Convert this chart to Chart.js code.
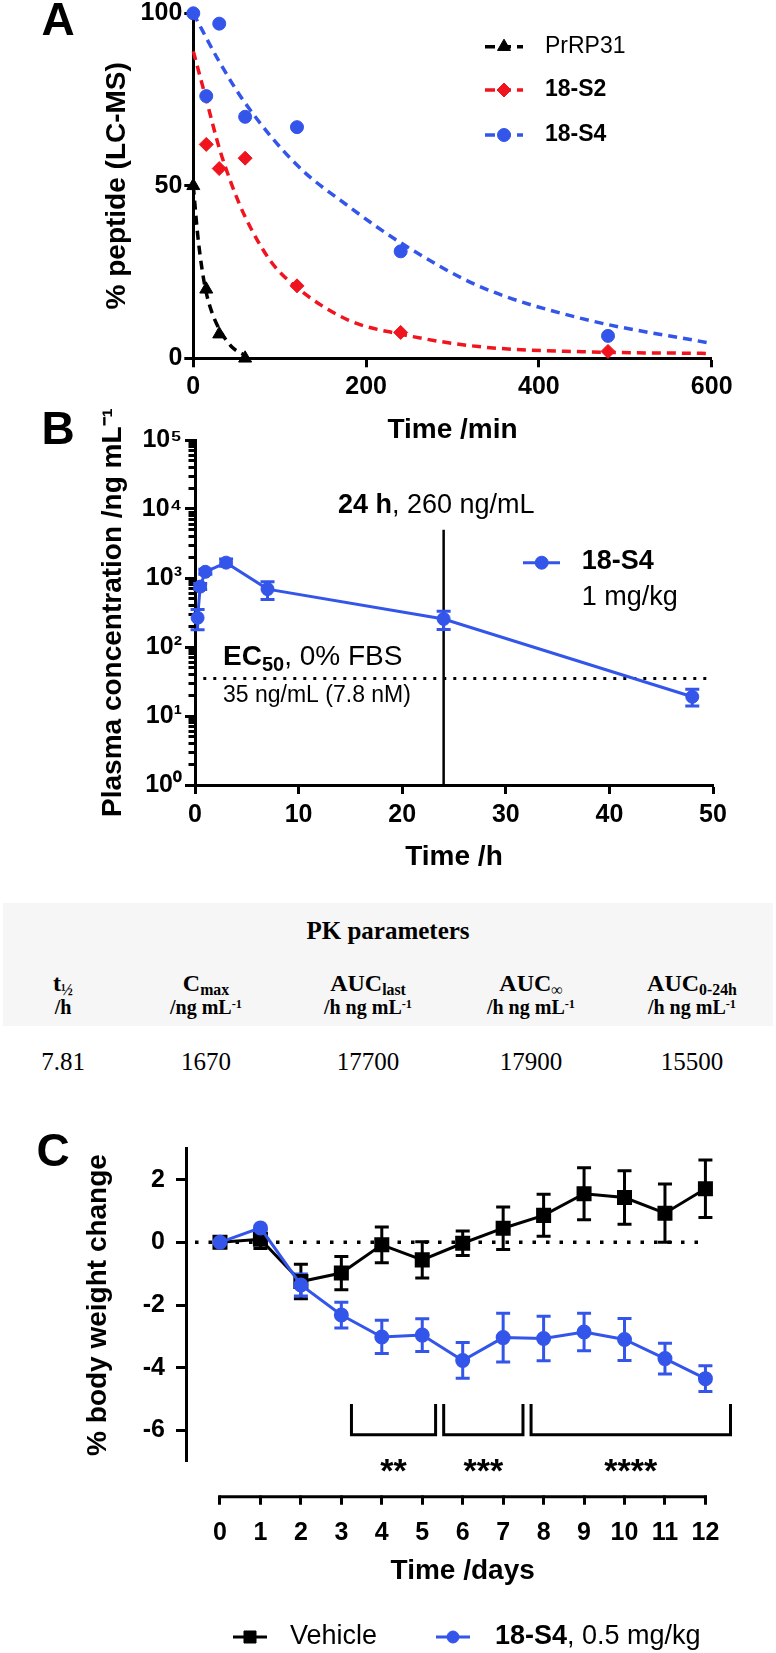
<!DOCTYPE html>
<html>
<head>
<meta charset="utf-8">
<title>Peptide stability, PK and body weight</title>
<script src="https://cdn.jsdelivr.net/npm/chart.js@4.4.1/dist/chart.umd.min.js"></script>
<style>
  html, body { margin: 0; padding: 0; background: #fff; }
  body { position: relative; width: 776px; height: 1653px; overflow: hidden; font-family: "Liberation Sans", Arial, Helvetica, sans-serif; }
  canvas { position: absolute; left: 0; }
  .panel { position: absolute; font-weight: bold; font-size: 46px; line-height: 46px; transform: translate(-50%, -50%); }
  #pk { position: absolute; left: 3px; top: 903px; width: 770px; height: 123px; background: #f6f6f6; }
  .pk { position: absolute; width: 170px; margin-left: -85px; text-align: center; white-space: nowrap;
        font-family: "Liberation Serif", "Times New Roman", serif; }
  .pk sub { font-size: 0.66em; vertical-align: -0.28em; line-height: 0; }
  .pk sup { font-size: 0.62em; vertical-align: 0.5em; line-height: 0; }
</style>
</head>
<body>
<canvas id="chartA" width="776" height="450" style="top:0"></canvas>
<canvas id="chartB" width="776" height="480" style="top:400px"></canvas>
<div id="pk"></div>
<canvas id="chartC" width="776" height="533" style="top:1120px"></canvas>
<div class="panel" style="left:58px;top:19px">A</div>
<div class="panel" style="left:58px;top:428px">B</div>
<div class="panel" style="left:53px;top:1150px">C</div>
<script>
// ---------- A: stability in serum (LC-MS) ----------
const aPrrpTime = [0, 15, 30, 60];
const aPrrpPct = [50, 20, 7, 0];
const aS2Time = [15, 30, 60, 120, 240, 480];
const aS2Pct = [62, 55, 58, 21, 7.5, 2];
const aS4Time = [0, 15, 30, 60, 120, 240, 480];
const aS4Pct = [100, 76, 97, 70, 67, 31, 6.5];
// dashed decay fits
const aPrrpFitT = [0, 5, 10, 15, 22, 30, 45, 60];
const aPrrpFitY = [50, 36, 26, 19, 13, 8.5, 3.2, 0.8];
const aS2FitT = [0, 15, 30, 45, 60, 90, 120, 180, 240, 330, 450, 600];
const aS2FitY = [89, 75, 61, 50, 41, 28, 20.5, 11, 7, 3.4, 1.9, 1.4];
const aS4FitT = [0, 30, 60, 120, 180, 240, 330, 450, 600];
const aS4FitY = [100, 86, 74, 56, 44, 33.5, 21, 11.5, 4.3];
const aXTicks = [0, 200, 400, 600];
const aYTicks = [0, 50, 100];

// ---------- B: plasma PK of 18-S4, 1 mg/kg ----------
const bTime = [0.25, 0.5, 1, 3, 7, 24, 48];
const bConc = [265, 750, 1230, 1670, 690, 255, 19];
const bLow = [178, 680, 1130, 1480, 490, 180, 14];
const bHigh = [350, 830, 1340, 1880, 880, 330, 24.5];
const bXTicks = [0, 10, 20, 30, 40, 50];
const bDecades = [1, 10, 100, 1000, 10000, 100000];
const bYLabels = ['10\u2070', '10\u00b9', '10\u00b2', '10\u00b3', '10\u2074', '10\u2075'];
const bMarkTime = 24, bMarkTop = 5000;      // 24 h marker line
const ec50 = 35, ec50From = 0.8;             // EC50 dotted line

// ---------- PK table ----------
const pkNames = ['t<sub>\u00bd</sub>', 'C<sub>max</sub>', 'AUC<sub>last</sub>', 'AUC<sub>\u221e</sub>', 'AUC<sub>0-24h</sub>'];
const pkUnits = ['/h', '/ng mL<sup>-1</sup>', '/h ng mL<sup>-1</sup>', '/h ng mL<sup>-1</sup>', '/h ng mL<sup>-1</sup>'];
const pkValues = ['7.81', '1670', '17700', '17900', '15500'];

// ---------- C: body weight change ----------
const cDays = [0, 1, 2, 3, 4, 5, 6, 7, 8, 9, 10, 11, 12];
const vehMean = [0, 0.1, -1.25, -0.98, -0.08, -0.56, -0.03, 0.45, 0.86, 1.55, 1.43, 0.93, 1.71];
const vehSem = [0, 0.3, 0.55, 0.53, 0.57, 0.58, 0.39, 0.68, 0.67, 0.83, 0.85, 0.93, 0.92];
const s4Mean = [0, 0.46, -1.36, -2.32, -3.02, -2.96, -3.77, -3.04, -3.07, -2.86, -3.1, -3.71, -4.35];
const s4Sem = [0, 0, 0.35, 0.41, 0.53, 0.52, 0.57, 0.78, 0.71, 0.6, 0.67, 0.49, 0.41];
const cXTicks = [0, 1, 2, 3, 4, 5, 6, 7, 8, 9, 10, 11, 12];
const cYTicks = [-6, -4, -2, 0, 2];
const sigFrom = [3.25, 5.53, 7.69];
const sigTo = [5.33, 7.49, 12.62];
const sigMark = ['**', '***', '****'];
const sigTop = -5.16, sigBottom = -6.14;

const FONT = '"Liberation Sans", Arial, Helvetica, sans-serif';
const BLACK = '#000000', RED = '#f0141e', BLUE = '#3355ea';
Chart.defaults.font.family = FONT;
Chart.defaults.color = BLACK;
Chart.defaults.animation = false;
Chart.defaults.plugins.legend.display = false;
Chart.defaults.plugins.tooltip.enabled = false;

const pts = (xs, ys) => xs.map((x, i) => ({x: x, y: ys[i]}));

function axisX(o) {
  return {
    type: 'linear', position: 'bottom', min: o.min, max: o.max,
    border: {display: o.border !== false, color: BLACK, width: 3},
    grid: {drawOnChartArea: false, color: BLACK, tickColor: BLACK, tickLength: o.tl || 9, tickWidth: 3,
           tickBorderDash: o.tickDash || []},
    ticks: {font: {size: 25, weight: 'bold'}, padding: o.pad, autoSkip: false, maxRotation: 0, minRotation: 0},
    title: {display: true, text: o.title, font: {size: 28, weight: 'bold'}, padding: {top: 0, bottom: o.tpad}},
    afterBuildTicks(s) { s.ticks = o.ticks.map(v => ({value: v})); },
    afterFit(s) { s.height = o.h; s.paddingLeft = 0; s.paddingRight = 0; }
  };
}
function axisY(o) {
  return {
    type: o.type || 'linear', position: 'left', min: o.min, max: o.max,
    border: {display: true, color: BLACK, width: 3},
    grid: {drawOnChartArea: false, color: BLACK, tickColor: BLACK, tickLength: o.tl || 10, tickWidth: 3,
           tickBorderDash: o.tickDash || []},
    ticks: {font: {size: 25, weight: 'bold'}, padding: o.pad, autoSkip: false, callback: o.cb},
    title: {display: true, text: o.title, font: {size: 28, weight: 'bold'}, padding: {top: o.tpad, bottom: 0}},
    afterBuildTicks(s) { s.ticks = o.ticks.map(v => ({value: v})); },
    afterFit(s) { s.width = o.w; s.paddingTop = 0; s.paddingBottom = 0; }
  };
}

function drawMark(ctx, style, x, y, r, color) {
  ctx.save();
  ctx.fillStyle = color; ctx.strokeStyle = color; ctx.lineWidth = 1; ctx.setLineDash([]);
  ctx.beginPath();
  if (style === 'circle') {
    ctx.arc(x, y, r, 0, Math.PI * 2);
  } else if (style === 'rectRot') {
    ctx.moveTo(x, y - r); ctx.lineTo(x + r, y); ctx.lineTo(x, y + r); ctx.lineTo(x - r, y); ctx.closePath();
  } else if (style === 'triangle') {
    let a = 0;
    ctx.moveTo(x + Math.sin(a) * r, y - Math.cos(a) * r);
    a += 2 * Math.PI / 3; ctx.lineTo(x + Math.sin(a) * r, y - Math.cos(a) * r);
    a += 2 * Math.PI / 3; ctx.lineTo(x + Math.sin(a) * r, y - Math.cos(a) * r);
    ctx.closePath();
  } else {
    const s = r * Math.SQRT1_2;
    ctx.rect(x - s, y - s, 2 * s, 2 * s);
  }
  ctx.fill(); ctx.stroke();
  ctx.restore();
}

// text made of runs: [{t, b, s, dy}]
function runs(ctx, x, y, parts, size) {
  ctx.save();
  ctx.fillStyle = BLACK; ctx.textBaseline = 'middle'; ctx.textAlign = 'left';
  parts.forEach(p => {
    ctx.font = (p.b ? 'bold ' : '') + (p.s || size) + 'px ' + FONT;
    ctx.fillText(p.t, x, y + (p.dy || 0));
    x += ctx.measureText(p.t).width;
  });
  ctx.restore();
}

function errBars(chart, xs, lo, hi, color, cap, width) {
  const {ctx, scales: {x, y}} = chart;
  ctx.save();
  ctx.strokeStyle = color; ctx.lineWidth = width; ctx.setLineDash([]);
  xs.forEach((t, i) => {
    if (hi[i] === lo[i]) return;
    const px = x.getPixelForValue(t);
    const p1 = y.getPixelForValue(lo[i]), p2 = y.getPixelForValue(hi[i]);
    ctx.beginPath();
    ctx.moveTo(px, p1); ctx.lineTo(px, p2);
    ctx.moveTo(px - cap, p1); ctx.lineTo(px + cap, p1);
    ctx.moveTo(px - cap, p2); ctx.lineTo(px + cap, p2);
    ctx.stroke();
  });
  ctx.restore();
}

// ================= chart A =================
function markers(label, xs, ys, color, style, r) {
  return {label: label, data: pts(xs, ys), showLine: false, pointStyle: style, pointRadius: r,
          pointBackgroundColor: color, pointBorderColor: color, pointBorderWidth: 1, clip: false};
}
function fitLine(label, xs, ys, color) {
  return {label: label, data: pts(xs, ys), showLine: true, borderColor: color, borderWidth: 3.5,
          borderDash: [9, 6], pointRadius: 0, cubicInterpolationMode: 'monotone', fill: false, clip: false};
}
const legendA = {
  id: 'legendA',
  afterDraw(chart) {
    const ctx = chart.ctx;
    const rows = [46.7, 90, 135];
    const bold = [false, true, true];
    [0, 1, 2].forEach((k, i) => {
      const ds = chart.data.datasets[k];
      const y = rows[i];
      ctx.save();
      ctx.strokeStyle = ds.pointBackgroundColor; ctx.lineWidth = 3.5; ctx.setLineDash([10, 6]);
      ctx.beginPath(); ctx.moveTo(485, y); ctx.lineTo(523, y); ctx.stroke();
      ctx.restore();
      drawMark(ctx, ds.pointStyle, 504, y, ds.pointRadius, ds.pointBackgroundColor);
      runs(ctx, 545, y, [{t: ds.label, b: bold[i]}], 23);
    });
  }
};
new Chart(document.getElementById('chartA'), {
  type: 'scatter',
  data: {datasets: [
    markers('PrRP31', aPrrpTime, aPrrpPct, BLACK, 'triangle', 7.5),
    markers('18-S2', aS2Time, aS2Pct, RED, 'rectRot', 7),
    markers('18-S4', aS4Time, aS4Pct, BLUE, 'circle', 6.5),
    fitLine('PrRP31 fit', aPrrpFitT, aPrrpFitY, BLACK),
    fitLine('18-S2 fit', aS2FitT, aS2FitY, RED),
    fitLine('18-S4 fit', aS4FitT, aS4FitY, BLUE)
  ]},
  options: {
    responsive: false,
    layout: {padding: {left: 0, right: 64.3, top: 13.3, bottom: 0}},
    scales: {
      x: axisX({min: 0, max: 600, ticks: aXTicks, title: 'Time /min', pad: 5, tpad: 3.2, h: 91.7}),
      y: axisY({min: 0, max: 100, ticks: aYTicks, title: '% peptide (LC-MS)', pad: 2, tl: 9, tpad: 100, w: 193.3})
    }
  },
  plugins: [legendA]
});

// ================= chart B =================
const bTickVals = [];
bDecades.forEach((d, i) => {
  bTickVals.push(d);
  if (i < bDecades.length - 1) for (let k = 2; k < 10; k++) bTickVals.push(d * k);
});
const decorB = {
  id: 'decorB',
  beforeDatasetsDraw(chart) {
    const {ctx, scales: {x, y}} = chart;
    ctx.save();
    ctx.strokeStyle = BLACK;
    ctx.lineWidth = 2.5;
    ctx.beginPath();
    ctx.moveTo(x.getPixelForValue(bMarkTime), y.getPixelForValue(bMarkTop));
    ctx.lineTo(x.getPixelForValue(bMarkTime), y.getPixelForValue(1));
    ctx.stroke();
    ctx.lineWidth = 3; ctx.setLineDash([3, 7]);
    ctx.beginPath();
    ctx.moveTo(x.getPixelForValue(ec50From), y.getPixelForValue(ec50));
    ctx.lineTo(x.getPixelForValue(50), y.getPixelForValue(ec50));
    ctx.stroke();
    ctx.restore();
    errBars(chart, bTime, bLow, bHigh, BLUE, 7, 3);
  },
  afterDraw(chart) {
    const ctx = chart.ctx;
    runs(ctx, 338, 106, [{t: '24 h', b: true}, {t: ', 260 ng/mL'}], 27);
    runs(ctx, 223, 257, [{t: 'EC', b: true}, {t: '50', b: true, s: 20, dy: 8}, {t: ', 0% FBS'}], 28);
    runs(ctx, 223, 296, [{t: '35 ng/mL (7.8 nM)'}], 23);
    ctx.save();
    ctx.strokeStyle = BLUE; ctx.lineWidth = 3;
    ctx.beginPath(); ctx.moveTo(523, 162.7); ctx.lineTo(560, 162.7); ctx.stroke();
    ctx.restore();
    drawMark(ctx, 'circle', 541.7, 162.7, 6.5, BLUE);
    runs(ctx, 581.7, 162, [{t: chart.data.datasets[0].label, b: true}], 27);
    runs(ctx, 581.7, 198, [{t: '1 mg/kg'}], 27);
  }
};
new Chart(document.getElementById('chartB'), {
  type: 'scatter',
  data: {datasets: [{
    label: '18-S4', data: pts(bTime, bConc), showLine: true, borderColor: BLUE, borderWidth: 3,
    pointRadius: 6.5, pointBackgroundColor: BLUE, pointBorderColor: BLUE, pointBorderWidth: 1, clip: false
  }]},
  options: {
    responsive: false,
    layout: {padding: {left: 0, right: 63, top: 40, bottom: 0}},
    scales: {
      x: axisX({min: 0, max: 50, ticks: bXTicks, title: 'Time /h', pad: 6, tpad: 6.2, h: 95}),
      y: axisY({type: 'logarithmic', min: 1, max: 100000, ticks: bTickVals,
        title: 'Plasma concentration /ng mL\u207b\u00b9', pad: 3, tl: 10, tpad: 96, w: 195,
        cb: v => { const i = bDecades.indexOf(v); return i >= 0 ? bYLabels[i] : ''; },
        tickDash: c => (c.tick && bDecades.indexOf(c.tick.value) < 0) ? [0, 3.5, 20] : []})
    }
  },
  plugins: [decorB]
});

// ================= PK table =================
const pkCols = [63, 206, 368, 531, 692];
let pkHtml = '<div class="pk" style="left:388px;top:916px;font-weight:bold;font-size:25px;line-height:30px">PK parameters</div>';
pkCols.forEach((cx, i) => {
  pkHtml += '<div class="pk" style="left:' + cx + 'px;top:969px;font-weight:bold;font-size:24px;line-height:28px">' + pkNames[i] + '</div>';
  pkHtml += '<div class="pk" style="left:' + cx + 'px;top:995px;font-weight:bold;font-size:20px;line-height:24px">' + pkUnits[i] + '</div>';
  pkHtml += '<div class="pk" style="left:' + cx + 'px;top:1048px;font-size:25px;line-height:28px">' + pkValues[i] + '</div>';
});
document.body.insertAdjacentHTML('beforeend', pkHtml);

// ================= chart C =================
const decorC = {
  id: 'decorC',
  beforeDatasetsDraw(chart) {
    const {ctx, chartArea, scales: {x, y}} = chart;
    ctx.save();
    ctx.strokeStyle = BLACK; ctx.lineWidth = 3.5; ctx.setLineDash([3.5, 10]);
    ctx.beginPath();
    ctx.moveTo(chartArea.left + 9, y.getPixelForValue(0));
    ctx.lineTo(x.getPixelForValue(cDays[cDays.length - 1]), y.getPixelForValue(0));
    ctx.stroke();
    ctx.restore();
    errBars(chart, cDays, vehMean.map((m, i) => m - vehSem[i]), vehMean.map((m, i) => m + vehSem[i]), BLACK, 7, 3);
    errBars(chart, cDays, s4Mean.map((m, i) => m - s4Sem[i]), s4Mean.map((m, i) => m + s4Sem[i]), BLUE, 7, 3);
  },
  afterDraw(chart) {
    const {ctx, chartArea, scales: {x, y}} = chart;
    ctx.save();
    ctx.strokeStyle = BLACK; ctx.lineWidth = 3; ctx.setLineDash([]);
    // detached time axis
    const axY = chartArea.bottom + 35;
    ctx.beginPath();
    ctx.moveTo(x.getPixelForValue(cXTicks[0]) - 1.5, axY);
    ctx.lineTo(x.getPixelForValue(cXTicks[cXTicks.length - 1]) + 1.5, axY);
    ctx.stroke();
    // significance brackets
    const yt = y.getPixelForValue(sigTop), yb = y.getPixelForValue(sigBottom);
    sigFrom.forEach((a, i) => {
      const x0 = x.getPixelForValue(a), x1 = x.getPixelForValue(sigTo[i]);
      ctx.beginPath();
      ctx.moveTo(x0, yt); ctx.lineTo(x0, yb); ctx.lineTo(x1, yb); ctx.lineTo(x1, yt);
      ctx.stroke();
      ctx.fillStyle = BLACK; ctx.textAlign = 'center'; ctx.textBaseline = 'alphabetic';
      ctx.font = 'bold 34px ' + FONT;
      ctx.fillText(sigMark[i], (x0 + x1) / 2, chartArea.bottom + 20);
    });
    ctx.restore();
    // legend
    const ly = 517;
    ctx.save();
    ctx.lineWidth = 3;
    ctx.strokeStyle = BLACK;
    ctx.beginPath(); ctx.moveTo(233, ly); ctx.lineTo(267, ly); ctx.stroke();
    ctx.strokeStyle = BLUE;
    ctx.beginPath(); ctx.moveTo(436, ly); ctx.lineTo(470, ly); ctx.stroke();
    ctx.restore();
    drawMark(ctx, 'rect', 250, ly, 8.5, BLACK);
    drawMark(ctx, 'circle', 453, ly, 6, BLUE);
    runs(ctx, 290, ly, [{t: chart.data.datasets[1].label}], 27);
    runs(ctx, 495, ly, [{t: chart.data.datasets[0].label, b: true}, {t: ', 0.5 mg/kg'}], 27);
  }
};
new Chart(document.getElementById('chartC'), {
  type: 'scatter',
  data: {datasets: [
    {label: '18-S4', data: pts(cDays, s4Mean), showLine: true, borderColor: BLUE, borderWidth: 3,
     pointStyle: 'circle', pointRadius: 6, pointBackgroundColor: BLUE, pointBorderColor: BLUE, clip: false},
    {label: 'Vehicle', data: pts(cDays, vehMean), showLine: true, borderColor: BLACK, borderWidth: 3,
     pointStyle: 'rect', pointRadius: 8.5, pointBackgroundColor: BLACK, pointBorderColor: BLACK, clip: false}
  ]},
  options: {
    responsive: false,
    layout: {padding: {left: 0, right: 36.6, top: 28.3, bottom: 53}},
    scales: {
      x: axisX({min: -0.84, max: 12.84, ticks: cXTicks, title: 'Time /days', pad: 13.3, tpad: 11.5, h: 138.3,
                tl: 43, border: false, tickDash: [0, 33.5, 20]}),
      y: axisY({min: -7, max: 3, ticks: cYTicks, title: '% body weight change', pad: 11, tl: 10, tpad: 81, w: 186})
    }
  },
  plugins: [decorC]
});
</script>
</body>
</html>
